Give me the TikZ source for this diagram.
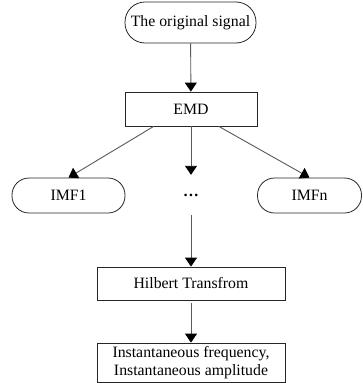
\documentclass[tikz,border=0pt]{standalone}
\usepackage{fontspec}
\setmainfont{Liberation Serif}
\usetikzlibrary{arrows.meta}
\begin{document}
\begin{tikzpicture}[x=1pt,y=1pt,
  every node/.style={font=\fontsize{15.8}{18}\selectfont, inner sep=0pt, align=center},
  termbox/.style={draw=black!85, line width=0.8pt, rounded corners=17pt},
  procbox/.style={draw=black!85, line width=0.8pt},
  conn/.style={draw=black!65, line width=0.9pt, -{Triangle[length=9pt,width=12pt,color=black]}}
]
\useasboundingbox (0,0) rectangle (362,-383);
\node[termbox, rounded corners=20pt, minimum width=131pt, minimum height=41pt] (orig) at (190.5,-22.5) {The original signal};
\node[procbox, minimum width=132pt, minimum height=34pt] (emd) at (191,-109) {EMD};
\node[termbox, minimum width=113pt, minimum height=35pt] (imf1) at (68.5,-195.5) {IMF1};
\node[termbox, minimum width=104pt, minimum height=35pt] (imfn) at (309.5,-195.5) {IMFn};
\node[minimum height=40pt, minimum width=20pt] (dots) at (191,-195) {\textbf{…}};
\node[procbox, minimum width=188pt, minimum height=33pt] (hil) at (191,-283.5) {Hilbert Transfrom};
\node[procbox, minimum width=188pt, minimum height=39pt] (inst) at (191,-362.5) {Instantaneous frequency,\\Instantaneous amplitude};
\draw[conn] (orig) -- (emd);
\draw[conn] (emd.205) -- (imf1.north);
\draw[conn] (emd.328) -- (imfn.north);
\draw[conn] (emd) -- (dots);
\draw[conn] (dots) -- (hil);
\draw[conn, shorten <=3pt] (hil) -- (inst);
\end{tikzpicture}
\end{document}
